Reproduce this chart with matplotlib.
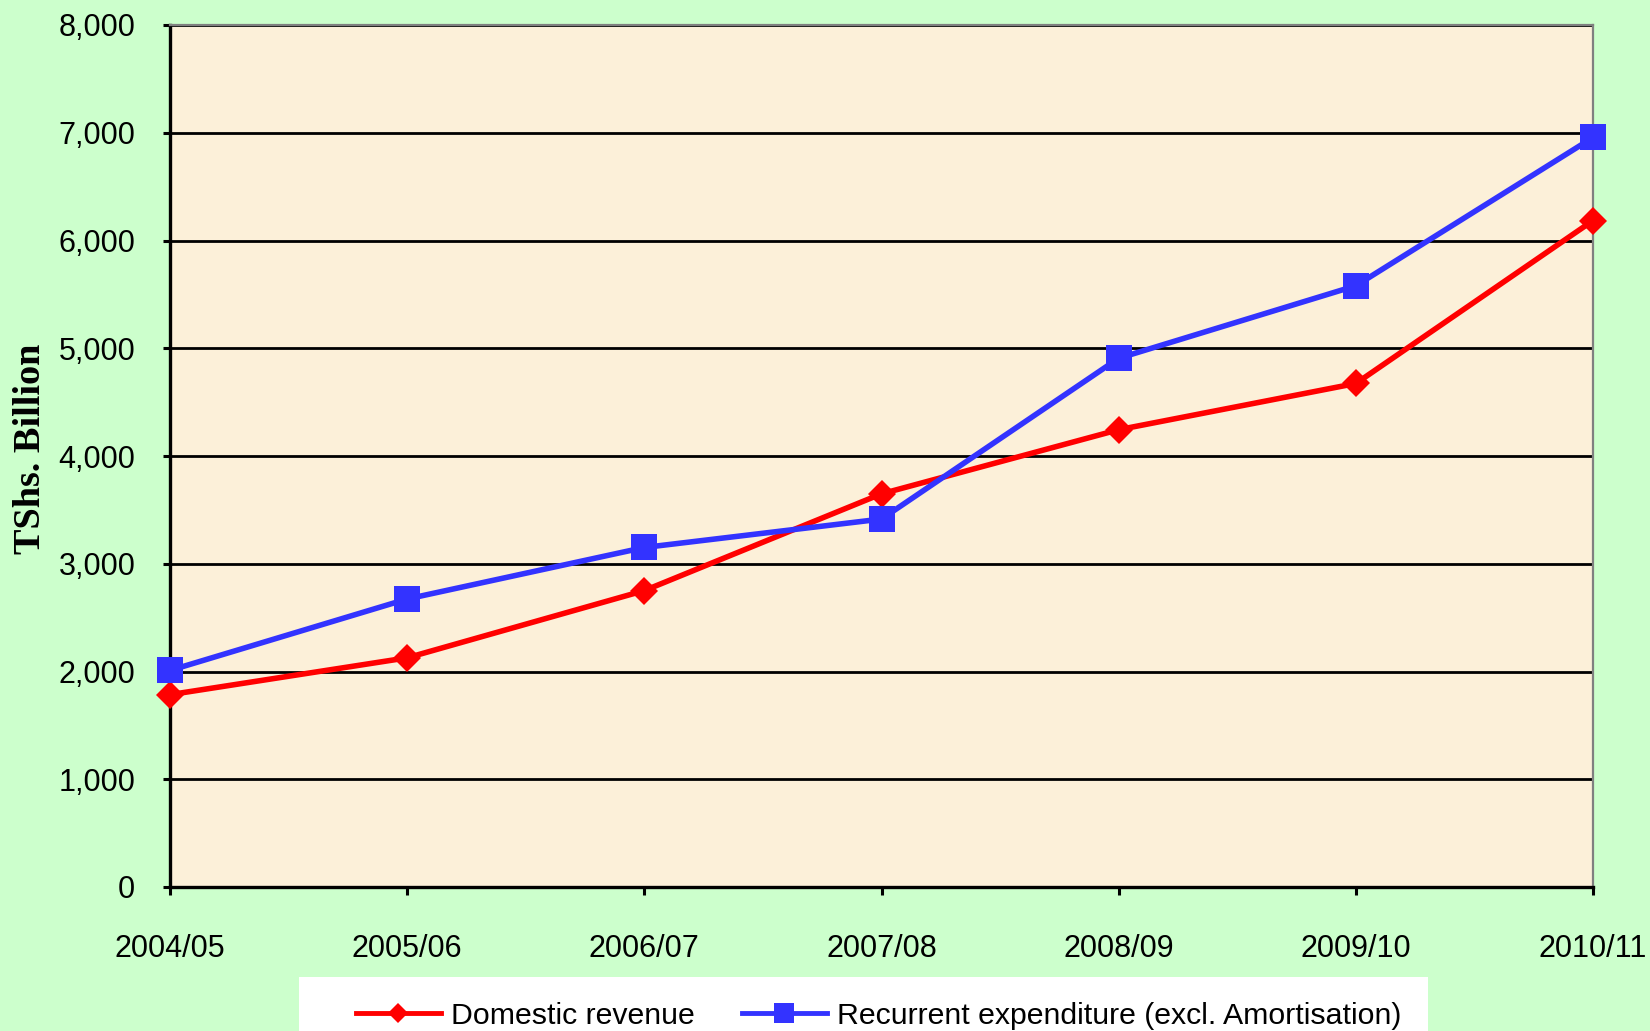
import matplotlib
matplotlib.use('Agg')
import matplotlib.pyplot as plt
import matplotlib.patches as mpatches
from matplotlib.ticker import FuncFormatter

# Dados (TShs. bilhões)
anos = ['2004/05', '2005/06', '2006/07', '2007/08', '2008/09', '2009/10', '2010/11']
receita_domestica = [1785, 2127, 2751, 3649, 4244, 4673, 6185]
despesa_recorrente = [2010, 2673, 3151, 3415, 4907, 5580, 6956]
y_ticks = [0, 1000, 2000, 3000, 4000, 5000, 6000, 7000, 8000]

# Cores
COR_FUNDO = '#CCFFCC'
COR_AREA = '#FCF0D9'
COR_VERMELHO = '#FF0000'
COR_AZUL = '#3333FF'
COR_CINZA = '#808080'

W, H = 1650, 1031
fig = plt.figure(figsize=(W / 100, H / 100), dpi=100, facecolor=COR_FUNDO)
ax = fig.add_axes([170 / W, 1 - 887 / H, (1593 - 170) / W, (887 - 25) / H])
ax.set_facecolor(COR_AREA)

x = list(range(len(anos)))

# Linhas de grade horizontais
ax.set_ylim(0, 8000)
ax.set_xlim(0, len(anos) - 1)
ax.set_yticks(y_ticks)
ax.yaxis.grid(True, color='black', linewidth=2.0)
ax.set_axisbelow(True)

ax.plot(x, receita_domestica, color=COR_VERMELHO, linewidth=4, marker='D',
        markersize=14, markeredgewidth=0, clip_on=False, zorder=3,
        label='Domestic revenue')
ax.plot(x, despesa_recorrente, color=COR_AZUL, linewidth=4, marker='s',
        markersize=18.5, markeredgewidth=0, clip_on=False, zorder=4,
        label='Recurrent expenditure (excl. Amortisation)')

# Eixos
ax.yaxis.set_major_formatter(FuncFormatter(lambda v, p: f'{v:,.0f}'))
ax.set_xticks(x)
ax.set_xticklabels(anos)
ax.tick_params(axis='y', direction='out', length=5, width=2.2, pad=20,
               labelsize=22, labelfontfamily='Liberation Sans')
ax.tick_params(axis='x', direction='out', length=6, width=2.2, pad=28,
               labelsize=22, labelfontfamily='Liberation Sans')

for lado in ['left', 'bottom']:
    ax.spines[lado].set_color('black')
    ax.spines[lado].set_linewidth(2.4)
for lado in ['top', 'right']:
    ax.spines[lado].set_color(COR_CINZA)
    ax.spines[lado].set_linewidth(1.6)

fig.text(31 / W, 1 - 449 / H, 'TShs. Billion', rotation=90, ha='center',
         va='center', fontsize=27.5, fontweight='bold', family='Liberation Serif')

# Caixa da legenda (cortada pela borda inferior)
fig.patches.append(mpatches.Rectangle((299 / W, 0), (1428 - 299) / W, (1031 - 977) / H,
                                      transform=fig.transFigure, facecolor='white',
                                      edgecolor='none', zorder=1))
leg = fig.legend(loc='center left', bbox_to_anchor=(356 / W, 1 - 1016 / H),
                 ncol=2, frameon=False, borderpad=0, borderaxespad=0,
                 handlelength=2.8, handletextpad=0.35, columnspacing=1.55,
                 prop={'family': 'Liberation Sans', 'size': 21.8})
for h in leg.legend_handles:
    h.set_markersize(h.get_markersize() * 0.75)
    h.set_linewidth(3.5)

fig.savefig('out.png', dpi=100, facecolor=COR_FUNDO)
